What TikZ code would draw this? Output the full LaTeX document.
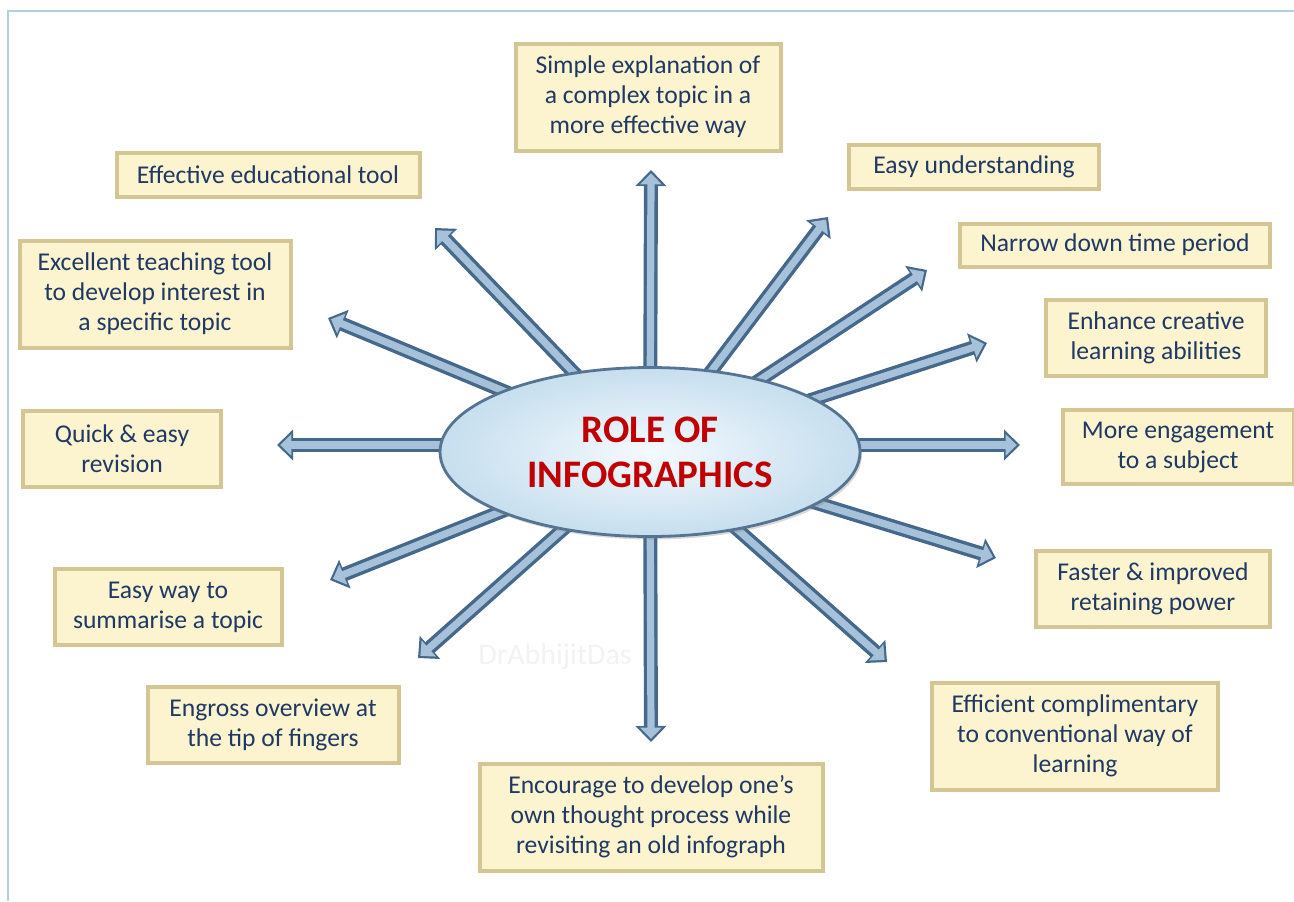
\documentclass[tikz,border=0pt]{standalone}
\usepackage{fontspec}
\setmainfont{Carlito}
\usetikzlibrary{arrows.meta,shapes.geometric,shadows,backgrounds}

\definecolor{framecol}{RGB}{180,208,216}
\definecolor{boxfill}{RGB}{251,244,206}
\definecolor{boxedge}{RGB}{212,198,148}
\definecolor{boxtext}{RGB}{31,56,100}
\definecolor{spokedark}{RGB}{70,104,138}
\definecolor{spokelight}{RGB}{166,193,218}
\definecolor{hubin}{RGB}{244,250,254}
\definecolor{hubout}{RGB}{198,222,238}
\definecolor{hubedge}{RGB}{84,116,146}
\definecolor{titlered}{RGB}{192,0,0}

\begin{document}
\begin{tikzpicture}[x=0.5pt, y=-0.5pt,
    box/.style={draw=boxedge, line width=2pt, fill=boxfill, text=boxtext,
      align=center, inner sep=0pt, font=\fontsize{12.8}{15}\selectfont,
      drop shadow={shadow xshift=1.2pt, shadow yshift=-1.2pt, opacity=0.3}},
    spoke/.style={draw=spokedark, line width=7pt, -{Triangle[width=15pt,length=8pt]},
      postaction={draw=spokelight, line width=3.6pt, shorten >=1.6pt,
        -{Triangle[width=10.5pt,length=5.6pt]}}}]

    % Page size and frame
    \useasboundingbox (0,0) rectangle (1294,901);
    \draw[framecol, line width=1pt] (8,901) -- (8,11) -- (1294,11);

    % Watermark
    \node[text=black!5, font=\fontsize{15}{18}\selectfont] (mark) at (555,657) {DrAbhijitDas};

    % Centre ellipse
    \node[ellipse, draw=hubedge, line width=1.4pt, shade, inner color=hubin, outer color=hubout,
      minimum width=210pt, minimum height=84.5pt, text=titlered, align=center,
      font=\fontsize{19.5}{22.5}\selectfont\bfseries,
      drop shadow={shadow xshift=1pt, shadow yshift=-1.5pt, opacity=0.3}]
      (hub) at (650,452) {ROLE OF\\INFOGRAPHICS};

    % Boxes, clockwise from the top
    \node[box, minimum width=132.5pt, minimum height=53.5pt] (explain) at (648,97)
      {Simple explanation of\\a complex topic in a\\more effective way};
    \node[box, minimum width=125pt, minimum height=22pt] (easy) at (974,167)
      {Easy understanding};
    \node[box, minimum width=155pt, minimum height=21.5pt] (narrow) at (1115,245)
      {Narrow down time period};
    \node[box, minimum width=110pt, minimum height=38pt] (enhance) at (1156,338)
      {Enhance creative\\learning abilities};
    \node[box, minimum width=115.5pt, minimum height=37pt] (engage) at (1178,447)
      {More engagement\\to a subject};
    \node[box, minimum width=117pt, minimum height=38pt] (faster) at (1153,589)
      {Faster \& improved\\retaining power};
    \node[box, minimum width=143pt, minimum height=53.5pt] (efficient) at (1075,736)
      {Efficient complimentary\\to conventional way of\\learning};
    \node[box, minimum width=171.5pt, minimum height=53.5pt] (encourage) at (651,817)
      {Encourage to develop one’s\\own thought process while\\revisiting an old infograph};
    \node[box, minimum width=125.5pt, minimum height=38pt] (engross) at (273,725)
      {Engross overview at\\the tip of fingers};
    \node[box, minimum width=113.5pt, minimum height=38pt] (summarise) at (168,607)
      {Easy way to\\summarise a topic};
    \node[box, minimum width=99pt, minimum height=38pt] (quick) at (122,449)
      {Quick \& easy\\revision};
    \node[box, minimum width=135.5pt, minimum height=53.5pt] (excellent) at (155,294)
      {Excellent teaching tool\\to develop interest in\\a specific topic};
    \node[box, minimum width=151.5pt, minimum height=22pt] (effective) at (268,175)
      {Effective educational tool};

    % Arrow tips
    \coordinate (tip-explain) at (651,170);
    \coordinate (tip-easy) at (828,217);
    \coordinate (tip-narrow) at (927,270);
    \coordinate (tip-enhance) at (987,343);
    \coordinate (tip-engage) at (1020,445);
    \coordinate (tip-faster) at (996,558);
    \coordinate (tip-efficient) at (887,662);
    \coordinate (tip-encourage) at (651,742);
    \coordinate (tip-engross) at (418,658);
    \coordinate (tip-summarise) at (330,580);
    \coordinate (tip-quick) at (277,445);
    \coordinate (tip-excellent) at (328,318);
    \coordinate (tip-effective) at (435,228);

    % Spokes, under the ellipse
    \begin{scope}[on background layer]
      \foreach \t in {explain,easy,narrow,enhance,faster,efficient,encourage,
                      engross,summarise,excellent,effective}
        \draw[spoke] (hub.center) -- (tip-\t);
      \draw[spoke] (hub.center |- tip-engage) -- (tip-engage);
      \draw[spoke] (hub.center |- tip-quick) -- (tip-quick);
    \end{scope}
\end{tikzpicture}
\end{document}
